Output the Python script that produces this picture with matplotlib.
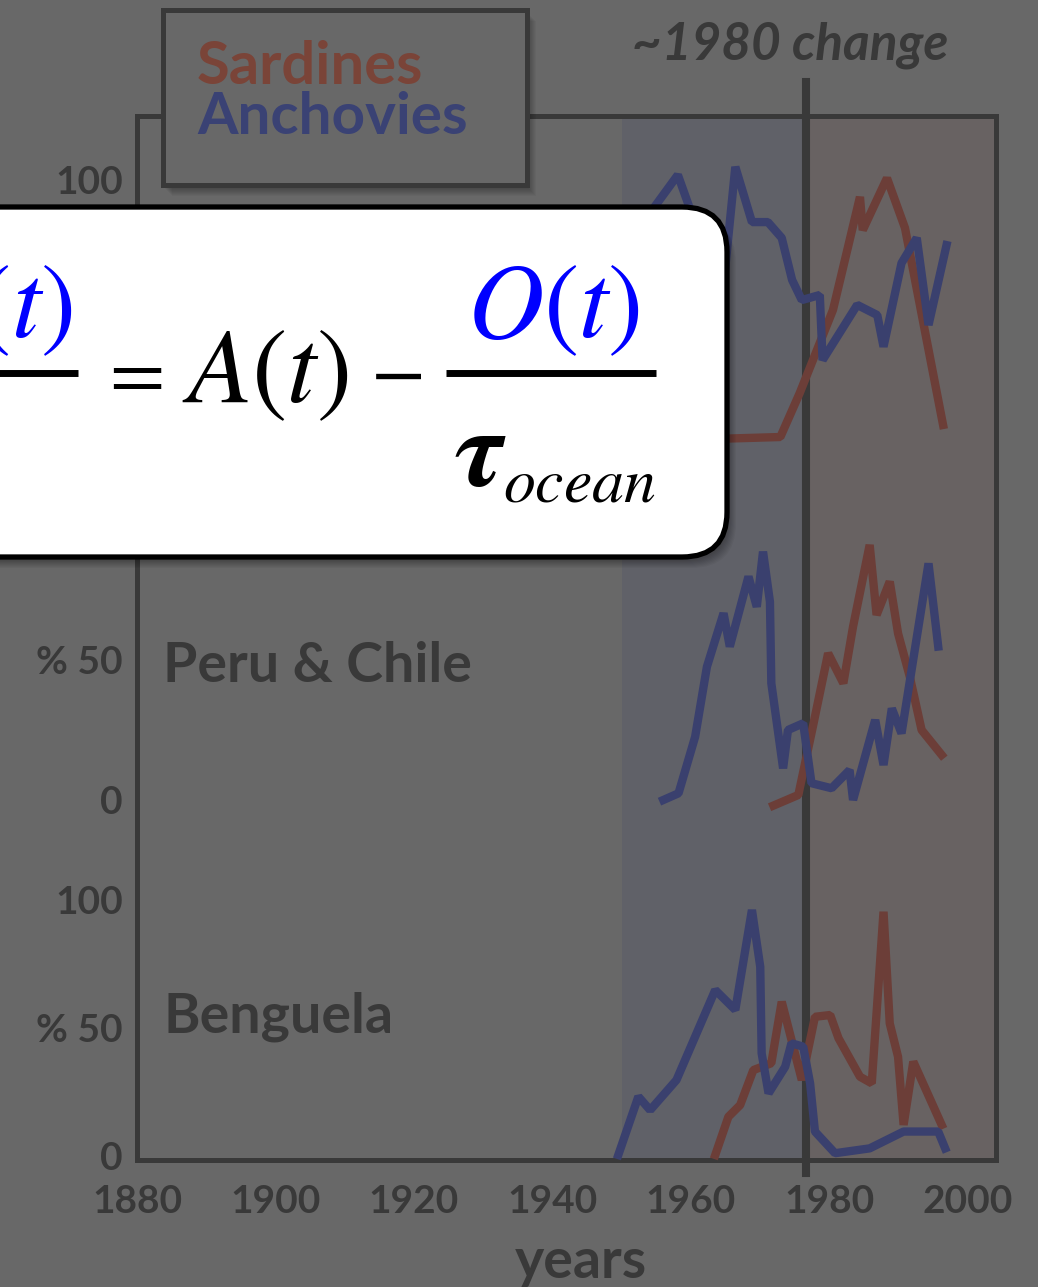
import matplotlib
matplotlib.use("Agg")
import matplotlib.pyplot as plt
from matplotlib.patches import FancyBboxPatch, Rectangle
from matplotlib.lines import Line2D
from matplotlib.transforms import IdentityTransform

# --- data (percent of catch) ---
year_ticks = [1880, 1900, 1920, 1940, 1960, 1980, 2000]
year_labels = ["1880", "1900", "1920", "1940", "1960", "1980", "2000"]
# visible y ticks of each panel (the rest sit under the equation box)
top_ticks, top_labels = [100], ["100"]
peru_ticks, peru_labels = [0, 50], ["0", "% 50"]
beng_ticks, beng_labels = [0, 50, 100], ["0", "% 50", "100"]
regions = ["", "Peru & Chile", "Benguela"]

top_anch_years = [1950.5, 1958.1, 1964.5, 1966.4, 1968.8, 1971.1, 1973.1, 1974.6, 1976.0,
                  1978.6, 1979.0, 1984.0, 1986.9, 1987.8, 1990.4, 1992.6, 1994.3, 1996.9]
top_anch = [75.0, 101.9, 55.6, 104.9, 84.3, 84.3, 78.4, 62.7, 55.2,
            57.1, 32.8, 53.4, 49.6, 37.8, 69.0, 78.4, 45.9, 75.7]
top_sard_years = [1952.0, 1972.9, 1975.7, 1980.5, 1984.4, 1984.8, 1988.3, 1990.9, 1996.4]
top_sard = [2.5, 4.1, 20.5, 51.5, 93.7, 81.3, 100.7, 82.1, 8.6]

peru_anch_years = [1956.0, 1958.2, 1960.6, 1962.3, 1964.7, 1965.6, 1968.3, 1969.5, 1970.4,
                   1971.4, 1971.6, 1973.3, 1974.0, 1976.2, 1977.4, 1980.3, 1982.9, 1983.4,
                   1986.6, 1987.8, 1989.0, 1990.4, 1994.3, 1995.7]
peru_anch = [0.0, 2.4, 22.6, 47.6, 66.7, 54.8, 79.8, 69.0, 88.7,
             70.8, 41.7, 11.3, 25.0, 27.4, 6.0, 4.2, 10.7, 0.0,
             28.6, 12.5, 32.7, 23.8, 84.5, 54.8]
peru_sard_years = [1971.9, 1975.5, 1977.7, 1979.8, 1982.0, 1983.4, 1985.8, 1986.8, 1988.7,
                   1989.9, 1991.6, 1993.3, 1996.2]
peru_sard = [-2.0, 1.8, 27.4, 52.4, 41.7, 61.9, 91.1, 66.1, 78.0,
             59.5, 44.0, 25.0, 16.1]

beng_anch_years = [1949.5, 1952.4, 1954.1, 1957.9, 1963.5, 1966.4, 1968.8, 1970.0, 1970.2,
                   1971.2, 1973.6, 1974.5, 1976.2, 1977.2, 1977.9, 1980.8, 1985.8, 1990.7,
                   1995.7, 1996.7]
beng_anch = [0.0, 22.9, 17.6, 29.4, 64.7, 56.9, 96.1, 73.8, 39.9,
             24.2, 34.6, 43.8, 42.5, 28.1, 9.2, 0.7, 2.6, 9.2,
             9.2, 2.6]
beng_sard_years = [1963.5, 1965.4, 1967.1, 1969.0, 1971.6, 1973.1, 1976.0, 1977.9, 1980.1,
                   1981.3, 1984.4, 1986.1, 1987.8, 1988.7, 1989.9, 1990.7, 1992.1, 1996.2]
beng_sard = [0.0, 15.0, 19.6, 33.3, 36.0, 60.1, 29.4, 54.2, 54.9,
             45.8, 30.7, 28.1, 95.4, 51.6, 38.5, 11.8, 36.6, 11.8]

change_year = 1976.6
shade_start = 1950.0

# --- style ---
BG = "#686868"
DARK = "#393939"
RED = "#6c3e38"
BLUE = "#3a406e"
plt.rcParams["font.family"] = ["Lato", "DejaVu Sans"]
plt.rcParams["mathtext.fontset"] = "stix"

W, H = 1038, 1287
fig = plt.figure(figsize=(W / 100, H / 100), dpi=100, facecolor=BG)


def fx(x):
    return x / W


def fy(y):
    return 1 - y / H


XL, XR = 137, 996
xlim = (1880, 1880 + (XR - XL) / 6.925)

# outer frame
ax = fig.add_axes([fx(XL), fy(1160), (XR - XL) / W, (1160 - 116) / H])
ax.set_facecolor(BG)
ax.set_xlim(*xlim)
ax.set_ylim(0, 1)
for s in ax.spines.values():
    s.set_color(DARK)
    s.set_linewidth(3.6)
ax.set_yticks([])
ax.set_xticks(year_ticks)
ax.set_xticklabels(year_labels)
ax.tick_params(axis="x", length=0, pad=17, labelsize=28, labelcolor=DARK)
for t in ax.get_xticklabels():
    t.set_fontweight("bold")
ax.axvspan(shade_start, change_year, color="#606168", lw=0)
ax.axvspan(change_year, xlim[1], color="#686262", lw=0)
ax.axvline(change_year, ymin=-0.0125, ymax=1.0326, color=DARK, lw=5.8, clip_on=False)
fig.text(fx(581), fy(1278), "years", fontsize=40, fontweight="bold", color=DARK,
         ha="center", va="baseline")

# stacked panels: (pixel of 0%, pixel of 100%)
panels = [
    (448, 180, top_ticks, top_labels, top_sard_years, top_sard, top_anch_years, top_anch),
    (800, 520, peru_ticks, peru_labels, peru_sard_years, peru_sard, peru_anch_years, peru_anch),
    (1155, 900, beng_ticks, beng_labels, beng_sard_years, beng_sard, beng_anch_years, beng_anch),
]
name_base = [None, 682, 1033]
for name, nb, (y0, y1, tk, tl, sy, sv, ay, av) in zip(regions, name_base, panels):
    pax = fig.add_axes([fx(XL), fy(y0), (XR - XL) / W, (y0 - y1) / H])
    pax.patch.set_alpha(0)
    for s in pax.spines.values():
        s.set_visible(False)
    pax.set_xlim(*xlim)
    pax.set_ylim(0, 100)
    pax.tick_params(axis="x", bottom=False, labelbottom=False)
    pax.set_yticks(tk)
    pax.set_yticklabels(tl)
    pax.tick_params(axis="y", length=0, pad=10, labelsize=28, labelcolor=DARK)
    for t in pax.get_yticklabels():
        t.set_fontweight("bold")
    pax.plot(sy, sv, color=RED, lw=6, clip_on=False, solid_joinstyle="bevel")
    pax.plot(ay, av, color=BLUE, lw=6, clip_on=False, solid_joinstyle="bevel")
    if name:
        fig.text(fx(163), fy(nb), name, fontsize=40, fontweight="bold", color=DARK,
                 ha="left", va="baseline")

fig.text(fx(790), fy(45), "~1980 change", fontsize=37, fontweight="bold",
         style="italic", color=DARK, ha="center", va="center")

ident = IdentityTransform()

# legend box with soft shadow
for i in range(8):
    fig.patches.append(Rectangle((163 + 2 + i, H - 185 - 4 - i), 364, 175, transform=ident,
                                 fc="black", ec="none", alpha=0.035, zorder=1))
fig.patches.append(Rectangle((163, H - 185), 364, 175, transform=ident,
                             fc=BG, ec=DARK, lw=3.6, zorder=1.1))
fig.text(fx(197), fy(84), "Sardines", fontsize=43, fontweight="bold", color="#7a4438",
         ha="left", va="baseline", zorder=2)
fig.text(fx(197), fy(134), "Anchovies", fontsize=42, fontweight="bold", color="#3a4274",
         ha="left", va="baseline", zorder=2)

# equation box
for i in range(8):
    fig.patches.append(FancyBboxPatch((-80 + 2 + i, H - 557 - 4 - i), 807, 350,
                                      boxstyle="round,pad=0,rounding_size=45",
                                      transform=ident, fc="black", ec="none",
                                      alpha=0.04, zorder=3))
fig.patches.append(FancyBboxPatch((-80, H - 557), 807, 350,
                                  boxstyle="round,pad=0,rounding_size=45",
                                  transform=ident, fc="white", ec="black", lw=3.8, zorder=3.1))

EQ = 76
fig.text(fx(73), fy(310), r"$dO(t)$", fontsize=EQ, color="blue", ha="right", va="center", zorder=4)
fig.lines.append(Line2D([fx(-10), fx(78)], [fy(373), fy(373)], transform=fig.transFigure,
                        color="black", lw=5, solid_capstyle="butt", zorder=4))
fig.text(fx(130), fy(374), r"$=$", fontsize=58, color="black", ha="center", va="center", zorder=4)
fig.text(fx(182), fy(375), r"$A(t)$", fontsize=EQ, color="black", ha="left", va="center", zorder=4)
fig.text(fx(396), fy(373), r"$-$", fontsize=58, color="black", ha="center", va="center", zorder=4)
fig.lines.append(Line2D([fx(446), fx(656)], [fy(373), fy(373)], transform=fig.transFigure,
                        color="black", lw=5, solid_capstyle="butt", zorder=4))
fig.text(fx(553), fy(310), r"$O(t)$", fontsize=EQ, color="blue", ha="center", va="center", zorder=4)
fig.text(fx(454), fy(455), r"$\boldsymbol{\tau}$", fontsize=80, color="black",
         ha="left", va="center", zorder=4)
fig.text(fx(503), fy(502), r"$ocean$", fontsize=46, color="black",
         ha="left", va="baseline", zorder=4)

fig.savefig("out.png", dpi=100, facecolor=BG)
